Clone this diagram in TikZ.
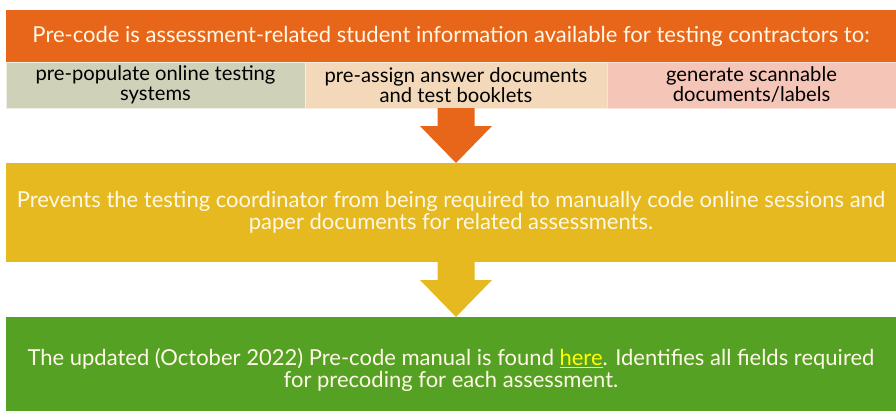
\documentclass[tikz,border=0pt]{standalone}
\usepackage{fontspec}
\setmainfont{Lato}
\usepackage{xcolor}
\usepackage{tikz}
\usetikzlibrary{positioning, calc}

\definecolor{precode}{HTML}{E8661A}
\definecolor{useA}{HTML}{D0D1B9}
\definecolor{useB}{HTML}{F3D9B9}
\definecolor{useC}{HTML}{F5C6B8}
\definecolor{prevent}{HTML}{E5B91F}
\definecolor{manual}{HTML}{55A124}
\definecolor{cream}{HTML}{FFF8E6}
\definecolor{linky}{HTML}{FFFF00}

% block arrow from the bottom of #1 to the top of #2
\newcommand{\blockarr}[3]{%
  \fill[#3] ($(sub2.south |- #1.south)+(-18.5,0)$)
    -- ($(sub2.south |- #1.south)+(18.5,0)$)
    -- ($(sub2.south |- #2.north)+(18.5,-37)$)
    -- ($(sub2.south |- #2.north)+(36,-37)$)
    -- (sub2.south |- #2.north)
    -- ($(sub2.south |- #2.north)+(-36,-37)$)
    -- ($(sub2.south |- #2.north)+(-18.5,-37)$) -- cycle;}

\begin{document}
\begin{tikzpicture}[
  x=1pt, y=-1pt,
  bar/.style={rectangle, minimum width=890pt, inner sep=0pt, outer sep=0pt,
              align=center, text=cream, font=\fontsize{22}{22.5}\selectfont},
  use/.style={rectangle, minimum height=46pt, inner sep=0pt, outer sep=0pt,
              align=center, text=black, font=\fontsize{20.2}{20}\selectfont,
              line width=0.8pt}
]
  \useasboundingbox (0,0) rectangle (896,410);

  \node[bar, fill=precode, minimum height=52pt] (intro) at (451,36)
    {Pre-code is assessment-related student information available for testing contractors to:};

  \node[use, fill=useA, draw=white!65!useA, minimum width=299pt,
        below right=0pt of intro.south west] (sub1)
    {pre-populate online testing\\systems};
  \node[use, fill=useB, draw=white!55!useB, minimum width=302pt,
        right=0pt of sub1] (sub2)
    {pre-assign answer documents\\and test booklets};
  \node[use, fill=useC, draw=white!50!useC, minimum width=289pt,
        right=0pt of sub2] (sub3)
    {generate scannable\\documents/labels};

  \node[bar, fill=prevent, minimum height=99pt] (stop) at (451,212.5)
    {Prevents the testing coordinator from being required to manually code online sessions and\\
     paper documents for related assessments.};

  % runs on past the bottom edge
  \node[bar, fill=manual, minimum height=106pt] (found) at (451,370)
    {The updated (October 2022) Pre-code manual is found \textcolor{linky}{\underline{here}}. Identifies all fields required\\
     for precoding for each assessment.};

  \blockarr{sub2}{stop}{precode}
  \blockarr{stop}{found}{prevent}
\end{tikzpicture}
\end{document}
